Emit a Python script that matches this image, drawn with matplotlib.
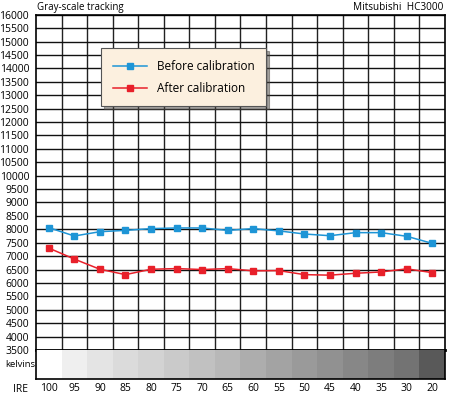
import matplotlib
matplotlib.use("Agg")
import matplotlib.pyplot as plt
from matplotlib.ticker import MultipleLocator

# data
ire = ["100", "95", "90", "85", "80", "75", "70", "65", "60", "55", "50", "45", "40", "35", "30", "20"]
before = [8060, 7750, 7910, 7960, 8025, 8050, 8050, 7960, 8025, 7940, 7825, 7760, 7875, 7875, 7740, 7475]
after = [7300, 6890, 6510, 6310, 6510, 6535, 6500, 6535, 6450, 6460, 6310, 6290, 6360, 6410, 6525, 6385]
grays = ["#ffffff", "#efefef", "#e4e4e4", "#dbdbdb", "#d3d3d3", "#cacaca", "#c1c1c1", "#b8b8b8",
         "#adadad", "#a3a3a3", "#9a9a9a", "#919191", "#878787", "#7d7d7d", "#737373", "#595959"]

plt.rcParams["font.family"] = ["Open Sans", "DejaVu Sans"]
plt.rcParams["font.size"] = 7.5

fig = plt.figure(figsize=(4.5, 3.94), dpi=100)
W, H = 450, 394
L, R, T, B = 36, 445, 14.7, 350
ax = fig.add_axes([L / W, 1 - B / H, (R - L) / W, (B - T) / H])
x = list(range(len(ire)))

ax.plot(x, before, color="#1e95d6", lw=1.1, marker="s", ms=3.8, label="Before calibration", zorder=3)
ax.plot(x, after, color="#e8202a", lw=1.1, marker="s", ms=3.8, label="After calibration", zorder=3)

ax.set_xlim(-0.5, len(ire) - 0.5)
ax.set_ylim(3500, 16000)
ax.yaxis.set_major_locator(MultipleLocator(500))
ax.set_xticks([i + 0.5 for i in range(len(ire) - 1)], minor=True)
ax.set_xticks([])
ax.grid(True, which="major", axis="y", color="#111111", lw=1.0)
ax.grid(True, which="minor", axis="x", color="#222222", lw=1.0)
ax.tick_params(axis="y", length=0, pad=5, labelsize=7.5)
ax.tick_params(axis="x", which="both", length=0)
ax.set_axisbelow(True)
for s in ax.spines.values():
    s.set_linewidth(1.2)
ax.spines["bottom"].set_linewidth(2)

leg = ax.legend(loc="upper left", bbox_to_anchor=(0.159, 0.9007), fontsize=8.5,
                handlelength=2.9, handletextpad=0.8, labelspacing=0.75,
                borderpad=1.0, borderaxespad=0, fancybox=False, shadow=True,
                framealpha=1, facecolor="#fcf0df", edgecolor="#555555")
leg.get_frame().set_linewidth(0.8)

ax.text(0.002, 1.006, "Gray-scale tracking", transform=ax.transAxes, ha="left", va="bottom", fontsize=7)
ax.text(0.995, 1.006, "Mitsubishi  HC3000", transform=ax.transAxes, ha="right", va="bottom", fontsize=7.2)

# gray step strip
sb = 378.5
ax2 = fig.add_axes([L / W, 1 - sb / H, (R - L) / W, (sb - B) / H])
ax2.bar(x, [1] * len(ire), width=1.0, color=grays, edgecolor="none")
ax2.set_xlim(-0.5, len(ire) - 0.5)
ax2.set_ylim(0, 1)
ax2.set_yticks([])
ax2.set_xticks(x)
ax2.set_xticklabels(ire)
ax2.tick_params(axis="x", length=0, pad=3, labelsize=7.5)
ax2.spines["top"].set_visible(False)
for s in ["left", "right", "bottom"]:
    ax2.spines[s].set_linewidth(1.2)
ax2.text(-0.002, 0.5, "kelvins", transform=ax2.transAxes, ha="right", va="center", fontsize=6.8)
ax2.text(-0.02, -0.4, "IRE", transform=ax2.transAxes, ha="right", va="center", fontsize=7.5)

fig.savefig("out.png", dpi=100)
